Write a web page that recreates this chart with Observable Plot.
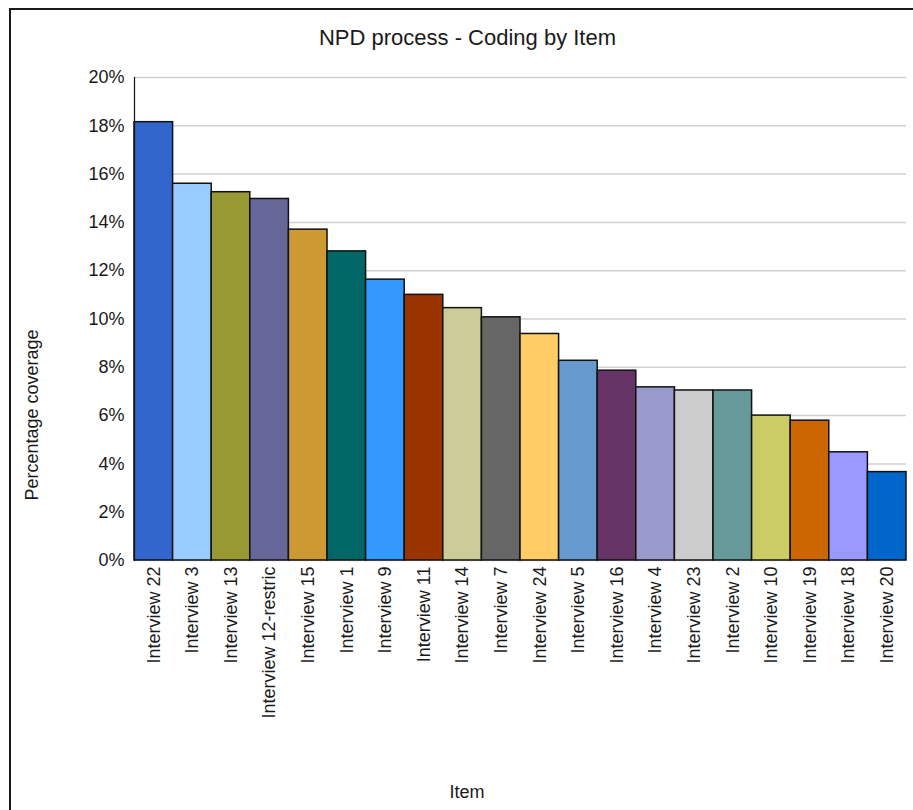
<!DOCTYPE html>
<html>
<head>
<meta charset="utf-8">
<script src="https://cdn.jsdelivr.net/npm/d3@7"></script>
<script src="https://cdn.jsdelivr.net/npm/@observablehq/plot@0.6"></script>
<style>
  html, body { margin: 0; padding: 0; background: #fff; overflow: hidden; }
  body { width: 913px; height: 810px; position: relative; font-family: "Liberation Sans", Arial, sans-serif; color: #000; }
  #frame { position: absolute; left: 9px; top: 8px; width: 2000px; height: 2000px; border: 2px solid #1a1a1a; box-sizing: border-box; }
  #chart { position: absolute; left: 0; top: 0; }
  .lbl { position: absolute; white-space: nowrap; }
  #title { left: 0; width: 935px; top: 27px; text-align: center; font-size: 22px; line-height: 22px; color: #1a1a1a; }
  #ylab { left: 32px; top: 415px; font-size: 18px; line-height: 18px; transform: translate(-50%, -50%) rotate(-90deg); color: #1a1a1a; }
  #xlab { left: 0; width: 934px; top: 783px; text-align: center; font-size: 18px; line-height: 18px; color: #1a1a1a; }
</style>
</head>
<body>
<div id="frame"></div>
<div id="chart"></div>
<div id="title" class="lbl">NPD process - Coding by Item</div>
<div id="ylab" class="lbl">Percentage coverage</div>
<div id="xlab" class="lbl">Item</div>
<script>
const items = ["Interview 22","Interview 3","Interview 13","Interview 12-restric","Interview 15","Interview 1","Interview 9","Interview 11","Interview 14","Interview 7","Interview 24","Interview 5","Interview 16","Interview 4","Interview 23","Interview 2","Interview 10","Interview 19","Interview 18","Interview 20"];
const coverage = [18.15, 15.6, 15.25, 14.97, 13.7, 12.8, 11.63, 11.0, 10.45, 10.07, 9.38, 8.27, 7.86, 7.17, 7.04, 7.04, 6.0, 5.79, 4.48, 3.66];
const colors = ["#3366CC","#99CCFF","#999933","#666699","#CC9933","#006666","#3399FF","#993300","#CCCC99","#666666","#FFCC66","#6699CC","#663366","#9999CC","#CCCCCC","#669999","#CCCC66","#CC6600","#9999FF","#0066CC"];
const yTicks = [0, 2, 4, 6, 8, 10, 12, 14, 16, 18, 20];

const data = items.map((name, i) => ({name, value: coverage[i], color: colors[i]}));

const plot = Plot.plot({
  width: 913,
  height: 810,
  marginLeft: 134,
  marginRight: 7,
  marginTop: 77,
  marginBottom: 250,
  style: {fontFamily: '"Liberation Sans", Arial, sans-serif', fontSize: "18px", color: "#1a1a1a", background: "transparent"},
  x: {type: "band", domain: items, padding: 0, round: false},
  y: {domain: [0, 20]},
  color: {type: "identity"},
  marks: [
    Plot.gridY(yTicks, {stroke: "#d0d0d0", strokeOpacity: 1, strokeWidth: 1.5}),
    Plot.barY(data, {x: "name", y: "value", fill: "color", stroke: "#111", strokeWidth: 1.5}),
    Plot.frame({anchor: "left", stroke: "#111", strokeWidth: 1.2}),
    Plot.axisY(yTicks, {tickSize: 0, tickPadding: 10, tickFormat: d => d + "%", fontSize: 18, label: null}),
    Plot.axisX({tickSize: 0, tickPadding: 6, tickRotate: -90, fontSize: 18, label: null})
  ]
});
document.getElementById("chart").appendChild(plot);
</script>
</body>
</html>
